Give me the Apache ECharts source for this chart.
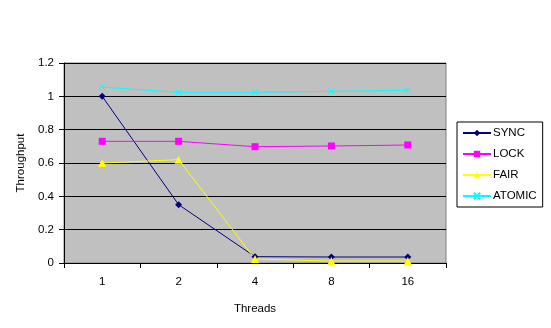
<!DOCTYPE html>
<html>
<head>
<meta charset="utf-8">
<script src="https://cdn.jsdelivr.net/npm/echarts@6/dist/echarts.min.js"></script>
<style>
  html, body { margin: 0; padding: 0; background: #fff; }
  #chart { width: 551px; height: 328px; }
</style>
</head>
<body>
<div id="chart"></div>
<script>
// Thread counts on the x axis
const threads = ['1', '2', '4', '8', '16'];

// Throughput per synchronisation strategy
const sync   = [1.00, 0.35, 0.038, 0.036, 0.036];
const lock   = [0.73, 0.73, 0.698, 0.702, 0.708];
const fair   = [0.60, 0.62, 0.024, 0.012, 0.012];
const atomic = [1.055, 1.024, 1.024, 1.030, 1.036];

const FONT = 'Liberation Sans, Arial, sans-serif';
const FS = 11.5;
const crossPath = 'path://M0,0L10,10M10,0L0,10';

function lineSeries(name, data, color, symbol, size) {
  return {
    name: name,
    type: 'line',
    data: data,
    symbol: symbol,
    symbolSize: size,
    showSymbol: true,
    animation: false,
    lineStyle: { color: color, width: 1 },
    itemStyle: { color: color, borderColor: color, borderWidth: symbol === crossPath ? 1 : 0 }
  };
}

const chart = echarts.init(document.getElementById('chart'), null, { renderer: 'canvas' });
chart.setOption({
  backgroundColor: '#ffffff',
  animation: false,
  textStyle: { fontFamily: FONT },
  grid: {
    left: 64, top: 63, width: 382, height: 200,
    show: true, backgroundColor: '#C0C0C0', borderColor: '#808080', borderWidth: 1
  },
  legend: {
    orient: 'vertical',
    left: 457, top: 122,
    width: 83,
    padding: [5, 6, 5, 5],
    itemGap: 9,
    itemWidth: 28, itemHeight: 8,
    borderColor: '#000', borderWidth: 1,
    textStyle: { fontFamily: FONT, fontSize: FS, color: '#000', padding: [0, 0, 0, -3] },
    data: ['SYNC', 'LOCK', 'FAIR', 'ATOMIC']
  },
  xAxis: {
    type: 'category',
    data: threads,
    boundaryGap: true,
    name: 'Threads',
    nameLocation: 'middle',
    nameGap: 40,
    nameTextStyle: { fontFamily: FONT, fontSize: FS, color: '#000' },
    axisLine: { lineStyle: { color: '#000', width: 1 } },
    axisTick: { show: true, interval: 0, length: 5, lineStyle: { color: '#000' } },
    axisLabel: { fontFamily: FONT, fontSize: FS, color: '#000', margin: 13 },
    splitLine: { show: false }
  },
  yAxis: {
    type: 'value',
    min: 0, max: 1.2, interval: 0.2,
    name: 'Throughput',
    nameLocation: 'middle',
    nameGap: 37,
    nameRotate: 90,
    nameTextStyle: { fontFamily: FONT, fontSize: FS, color: '#000' },
    axisLine: { show: true, lineStyle: { color: '#000', width: 1 } },
    axisTick: { show: true, length: 5, lineStyle: { color: '#000' } },
    axisLabel: {
      fontFamily: FONT, fontSize: FS, color: '#000', margin: 10,
      formatter: function (v) { return String(Math.round(v * 10) / 10); }
    },
    splitLine: { show: true, lineStyle: { color: '#000', width: 1 } }
  },
  series: [
    lineSeries('SYNC', sync, '#000080', 'diamond', 7),
    lineSeries('LOCK', lock, '#FF00FF', 'rect', 7),
    lineSeries('FAIR', fair, '#FFFF00', 'triangle', 8),
    lineSeries('ATOMIC', atomic, '#00FFFF', crossPath, 6)
  ]
});
</script>
</body>
</html>
